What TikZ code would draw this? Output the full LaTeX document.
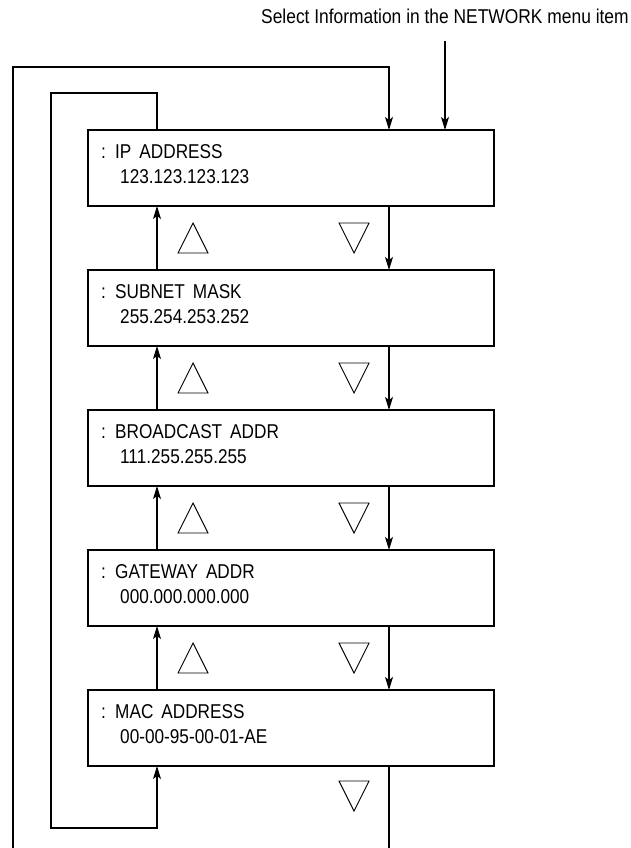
\documentclass[tikz,border=0pt]{standalone}
\usepackage{fontspec}
\setmainfont{Liberation Sans}[FakeStretch=0.87]
\newfontfamily\boxfont{Liberation Sans}[FakeStretch=0.86]
\usetikzlibrary{arrows.meta,calc}
\newcommand\wsp{\hspace{8pt}}
\begin{document}
\begin{tikzpicture}[x=1pt,y=-1pt,
  box/.style={draw,line width=2.4pt,minimum width=406pt,minimum height=76pt,anchor=north west,inner sep=0pt,outer sep=0pt},
  conn/.style={line width=1.2pt},
  arr/.style={conn,-{Stealth[length=13pt,width=8pt,inset=3pt]}},
  txt/.style={anchor=base west,inner sep=0pt,font=\boxfont\fontsize{20}{24}\selectfont},
  ttl/.style={anchor=base west,inner sep=0pt,font=\fontsize{20}{24}\selectfont},
  tri/.style={line width=0.9pt}]
\useasboundingbox (0,0) rectangle (630,848);
\node[ttl] (title) at (261,24) {Select Information in the NETWORK menu item};
\coordinate (uX) at (157,0);
\coordinate (dX) at (389,0);
\foreach \n/\ta/\tb in {1/IP\wsp ADDRESS/123.123.123.123,
                        2/SUBNET\wsp MASK/255.254.253.252,
                        3/BROADCAST\wsp ADDR/111.255.255.255,
                        4/GATEWAY\wsp ADDR/000.000.000.000,
                        5/MAC\wsp ADDRESS/00-00-95-00-01-AE}{
  \pgfmathsetmacro\tp{130+140*(\n-1)}
  \node[box] (b\n) at (88,\tp) {};
  \node[txt] (c\n) at ($(b\n.north west)+(13,28)$) {:};
  \node[txt] (h\n) at ($(b\n.north west)+(27,28)$) {\ta};
  \node[txt] (v\n) at ($(b\n.north west)+(32,53)$) {\tb};
}
% arrows between boxes
\foreach \n [evaluate=\n as \p using int(\n-1)] in {2,...,5}{
  \draw[arr] (b\n.north -| uX) -- (b\p.south -| uX);
  \draw[arr] (b\p.south -| dX) -- (b\n.north -| dX);
  \pgfmathsetmacro\cy{130+140*(\p-1)+76+32}
  \draw[tri] (178,\cy+15) -- (193,\cy-15) -- (208,\cy+15) -- cycle;
  \draw[tri] (339,\cy-15) -- (369,\cy-15) -- (354,\cy+15) -- cycle;
}
\draw[tri] (339,781) -- (369,781) -- (354,811) -- cycle;
% entry arrow
\coordinate (eTop) at (445,41);
\draw[arr] (eTop) -- (b1.north -| eTop);
% outer loop
\coordinate (oTop) at (13,67);
\coordinate (oBot) at (13,848);
\coordinate (dBot) at (389,848);
\draw[conn] (b5.south -| dX) -- (dBot);
\draw[arr] (oBot) -- (oTop) -| (b1.north -| dX);
% inner loop
\coordinate (iTop) at (51,93);
\coordinate (iBot) at (51,828);
\draw[arr] (b1.north -| uX) |- (iTop) -- (iBot) -| (b5.south -| uX);
\end{tikzpicture}
\end{document}
